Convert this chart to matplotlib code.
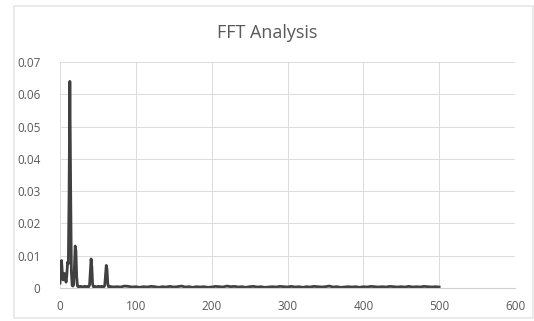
import numpy as np
import matplotlib.pyplot as plt
from matplotlib.patches import Rectangle

# frequency bins (fine near the peaks, coarser along the flat tail)
freq_low = list(range(0, 71))
freq_high = list(range(75, 501, 5))

amp_low = [0.0015, 0.0060, 0.0085, 0.0050, 0.0025, 0.0030, 0.0045, 0.0035, 0.0018, 0.0040,
           0.0080, 0.0075, 0.0300, 0.0640, 0.0320, 0.0050, 0.0008, 0.0006, 0.0010, 0.0065,
           0.0130, 0.0115, 0.0035, 0.0006, 0.0004, 0.0005, 0.0004, 0.0003, 0.0005, 0.0004,
           0.0003, 0.0004, 0.0005, 0.0003, 0.0004, 0.0004, 0.0003, 0.0005, 0.0004, 0.0010,
           0.0050, 0.0090, 0.0065, 0.0012, 0.0004, 0.0003, 0.0005, 0.0004, 0.0003, 0.0004,
           0.0005, 0.0003, 0.0004, 0.0004, 0.0003, 0.0005, 0.0004, 0.0003, 0.0004, 0.0008,
           0.0040, 0.0070, 0.0058, 0.0014, 0.0004, 0.0003, 0.0005, 0.0004, 0.0003, 0.0004,
           0.0003]
amp_high = [0.0004, 0.0003, 0.0006, 0.0005, 0.0003, 0.0004, 0.0002, 0.0004, 0.0003, 0.0005,
            0.0004, 0.0002, 0.0004, 0.0003, 0.0005, 0.0003, 0.0004, 0.0006, 0.0003, 0.0004,
            0.0002, 0.0004, 0.0003, 0.0004, 0.0002, 0.0003, 0.0005, 0.0004, 0.0003, 0.0006,
            0.0004, 0.0005, 0.0003, 0.0004, 0.0002, 0.0004, 0.0005, 0.0003, 0.0004, 0.0002,
            0.0003, 0.0004, 0.0003, 0.0005, 0.0004, 0.0003, 0.0005, 0.0003, 0.0004, 0.0002,
            0.0004, 0.0003, 0.0005, 0.0004, 0.0003, 0.0004, 0.0006, 0.0003, 0.0004, 0.0002,
            0.0003, 0.0004, 0.0003, 0.0004, 0.0002, 0.0004, 0.0003, 0.0005, 0.0004, 0.0003,
            0.0004, 0.0003, 0.0005, 0.0004, 0.0003, 0.0004, 0.0003, 0.0005, 0.0003, 0.0004,
            0.0003, 0.0005, 0.0004, 0.0003, 0.0004, 0.0003]

freq = np.array(freq_low + freq_high)
amp = np.array(amp_low + amp_high)

x_ticks = [0, 100, 200, 300, 400, 500, 600]
y_ticks = [0, 0.01, 0.02, 0.03, 0.04, 0.05, 0.06, 0.07]
y_labels = ["0", "0.01", "0.02", "0.03", "0.04", "0.05", "0.06", "0.07"]

plt.rcParams['font.family'] = ['Open Sans', 'DejaVu Sans']

fig = plt.figure(figsize=(5.34, 3.21), dpi=100)
fig.patches.append(Rectangle((14 / 534, 3 / 321), 519 / 534, 312 / 321,
                             transform=fig.transFigure, fill=False,
                             edgecolor='#e6e6e6', linewidth=1.2))

ax = fig.add_axes([60 / 534, 1 - 288 / 321, 455 / 534, 226 / 321])
ax.plot(freq, amp, color='#404040', linewidth=2.0)

ax.set_xlim(0, 600)
ax.set_ylim(0, 0.07)
ax.set_xticks(x_ticks)
ax.set_yticks(y_ticks)
ax.set_yticklabels(y_labels)
ax.grid(True, color='#dcdcdc', linewidth=0.7)
ax.set_axisbelow(True)
for side in ['top', 'right', 'left']:
    ax.spines[side].set_visible(False)
ax.spines['bottom'].set_color('#d0d0d0')
ax.tick_params(length=0, colors='#595959', labelsize=8.5)
ax.tick_params(axis='x', pad=9)
ax.tick_params(axis='y', pad=14)

fig.text(0.5, 1 - 33 / 321, "FFT Analysis", ha='center', va='center',
         fontsize=13, color='#595959')

fig.savefig("out.png", dpi=100)
